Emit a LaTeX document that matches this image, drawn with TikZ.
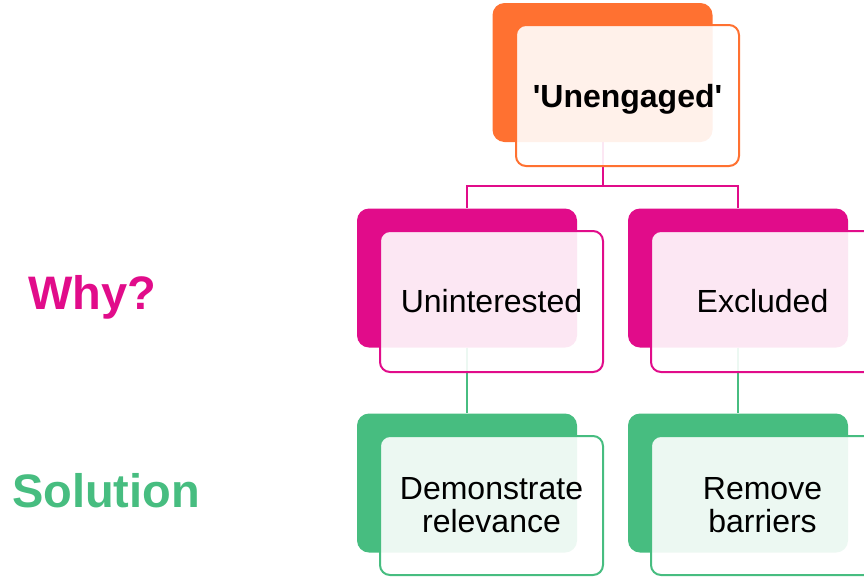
\documentclass[tikz,border=0pt]{standalone}
\usepackage{fontspec}
\setmainfont{Liberation Sans}
\definecolor{orng}{HTML}{FF7131}
\definecolor{pnk}{HTML}{E10C8A}
\definecolor{grn}{HTML}{47BD80}
\begin{document}
\begin{tikzpicture}[x=1pt, y=-1pt,
  backbox/.style={rectangle, rounded corners=12pt, fill=#1, minimum width=220pt, minimum height=139pt, inner sep=0pt},
  frontbox/.style={rectangle, rounded corners=10pt, draw=#1, line width=2pt, fill=white, fill opacity=0.9, text opacity=1, minimum width=223pt, minimum height=141pt, inner sep=0pt, align=center, font=\fontsize{32}{33}\selectfont},
  link/.style={line width=2pt, draw=#1},
  rowlabel/.style={font=\fontsize{47}{50}\selectfont\bfseries, text=#1, anchor=base}]
\useasboundingbox (0,0) rectangle (864,576);
\clip (0,0) rectangle (864,576);
\node[backbox=orng] (back0) at (602.5,72.5){};
\node[backbox=pnk] (back1) at (467,278){};
\node[backbox=pnk] (back2) at (738,278){};
\node[backbox=grn] (back3) at (467,483){};
\node[backbox=grn] (back4) at (738,483){};
\draw[link=pnk](back0.south) -- ++(0,44) -| (back1.north);
\draw[link=pnk](back0.south) -- ++(0,44) -| (back2.north);
\draw[link=grn](back1.south) -- (back3.north);
\draw[link=grn](back2.south) -- (back4.north);
\node[frontbox=orng, font=\fontsize{32}{33}\selectfont\bfseries, text depth=0pt] (box0) at (627.5,95.5){\textquotesingle Unengaged\textquotesingle};
\node[frontbox=pnk] (box1) at (491.5,301.5){Uninterested};
\node[frontbox=pnk] (box2) at (762.5,301.5){Excluded};
\node[frontbox=grn, minimum height=139pt] (box3) at (491.5,505.5){Demonstrate\\relevance};
\node[frontbox=grn, minimum height=139pt] (box4) at (762.5,505.5){Remove\\barriers};
\node[rowlabel=pnk] (why) at (92,309){Why?};
\node[rowlabel=grn] (sol) at (106,507){Solution};
\end{tikzpicture}
\end{document}
